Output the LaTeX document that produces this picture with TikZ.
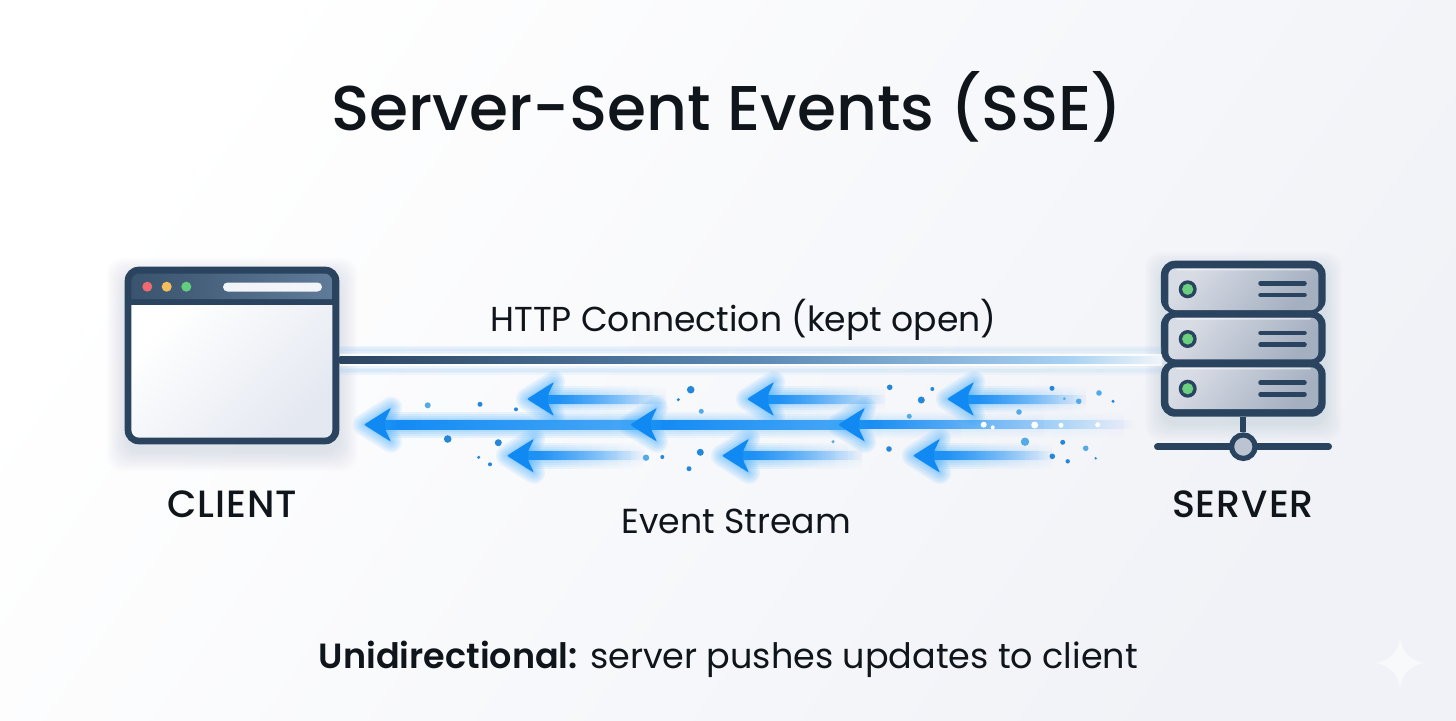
\documentclass[tikz,border=0pt]{standalone}
\usepackage{fontspec}
\setmainfont{Poppins}[UprightFont=* Medium,BoldFont=* SemiBold]
\newfontfamily\regfont{Poppins}
\usetikzlibrary{calc,fadings}
\definecolor{ink}{HTML}{10151C}
\definecolor{navy}{HTML}{2A4460}
\definecolor{barl}{HTML}{3A536E}
\definecolor{barr}{HTML}{5F7B99}
\definecolor{evblue}{HTML}{1089F3}
\definecolor{evglow}{HTML}{2CA4FF}
\definecolor{dotd}{HTML}{2487DC}
\definecolor{dotl}{HTML}{52ABE8}
\definecolor{bgend}{HTML}{F0F2F7}
\definecolor{lineglow}{HTML}{9CCDF5}
\definecolor{paneend}{HTML}{E4E8F1}
\definecolor{redlamp}{HTML}{EE6A6E}
\definecolor{amberlamp}{HTML}{F6BD5C}
\definecolor{greenlamp}{HTML}{62CF7C}
\definecolor{pill}{HTML}{F2F4F8}
\definecolor{hubfill}{HTML}{BCC4D1}
\definecolor{unitl}{HTML}{D8DCE5}
\definecolor{unitr}{HTML}{A4AFC0}
\definecolor{ledgreen}{HTML}{6AD07F}
\definecolor{linemid}{HTML}{5C8AB5}
\definecolor{lineend}{HTML}{A8D2F3}
\definecolor{linefree}{HTML}{F1F5FA}
\definecolor{midend}{HTML}{4BA8F6}
\tikzfading[name=tailfade,left color=transparent!0,middle color=transparent!15,right color=transparent!100]
\tikzfading[name=glowfade,left color=transparent!0,middle color=transparent!45,right color=transparent!100]
\tikzfading[name=midfade,left color=transparent!0,middle color=transparent!35,right color=transparent!100]
\tikzfading[name=linefade,left color=transparent!30,middle color=transparent!0,right color=transparent!60]
\tikzset{
  caption/.style={inner sep=0pt,anchor=base,text=ink},
  windowframe/.style={fill=navy,rounded corners=14pt,inner sep=0pt,minimum width=214.6pt,minimum height=177.6pt},
  unitframe/.style={fill=navy,rounded corners=14pt,inner sep=0pt,minimum width=164.7pt},
  slot/.style={draw=navy,line width=4.5pt,line cap=round},
  stream/.style={fill=evblue},
  softshadow/.style={fill=navy,opacity=.012},
}
\newcommand{\headshape}[2]{(#1,#2) -- (#1+27,#2-17) -- (#1+21,#2-4.5) -- (#1+21,#2+4.5) -- (#1+27,#2+17) -- cycle}
\newcommand{\evhead}[2]{%
  \foreach \w in {22,18,14,10,6,3}{\draw[evglow,opacity=.09,line width=\w pt,line join=round,fill=evglow,fill opacity=.09] \headshape{#1}{#2};}
  \fill[evblue,rounded corners=2pt] \headshape{#1}{#2};}
\newcommand{\evshaft}[4]{% name, tip x, y, tail x
  \coordinate (#1h) at (#2+18,#3);
  \coordinate (#1t) at (#4,#3);
  \foreach \w in {13,11,9,7,5.5}{\fill[evglow,opacity=.11,path fading=glowfade] ($(#1h)+(0,-\w)$) rectangle ($(#1t)+(0,\w)$);}
  \fill[stream,path fading=tailfade] ($(#1h)+(0,-4.5)$) rectangle ($(#1t)+(0,4.5)$);}
\newcommand{\evarrow}[4]{\evshaft{#1}{#2}{#3}{#4}\evhead{#2}{#3}}
\newcommand{\pdark}[3]{\fill[dotd] (#1,#2) circle[radius=#3];}
\newcommand{\plight}[3]{\fill[dotl] (#1,#2) circle[radius=#3];}
\newcommand{\pwhite}[3]{\fill[white] (#1,#2) circle[radius=#3];}
\begin{document}
\begin{tikzpicture}[x=1pt,y=-1pt]
\useasboundingbox (0,0) rectangle (1456,720);
\shade[left color=white,right color=bgend,shading angle=55] (0,0) rectangle (1456,720);

% sparkle
\fill[white,opacity=.55] (1400,639) .. controls (1403,653) and (1410,660) .. (1424,663) .. controls (1410,666) and (1403,673) .. (1400,687) .. controls (1397,673) and (1390,666) .. (1376,663) .. controls (1390,660) and (1397,653) .. (1400,639) -- cycle;

% texts
\node[caption,font=\fontsize{63.2}{70}\selectfont] (title) at (727,130) {Server-Sent Events (SSE)};
\node[caption,font=\regfont\fontsize{34.6}{40}\selectfont] (httplabel) at (743.5,331) {HTTP Connection (kept open)};
\node[caption,font=\fontsize{38}{40}\selectfont\addfontfeature{LetterSpace=2.5}] (clientlabel) at (232,517) {CLIENT};
\node[caption,font=\fontsize{38}{40}\selectfont\addfontfeature{LetterSpace=2.5}] (serverlabel) at (1243,517) {SERVER};
\node[caption,font=\regfont\fontsize{34.7}{40}\selectfont] (streamlabel) at (736,533) {Event Stream};
\node[caption,font=\fontsize{35}{40}\selectfont] (note) at (728.5,668) {\textbf{Unidirectional:} {\regfont server pushes updates to client}};

% shadows
\foreach \g in {18,16,14,12,10,8,6,4,2,0}{\fill[softshadow,rounded corners=16pt] (124.7-\g,276-\g) rectangle (339.3+\g,453+\g);}
\foreach \g in {16,14,12,10,8,6,4,2,0}{\fill[softshadow,rounded corners=16pt] (1161-\g,268-\g) rectangle (1325.7+\g,425+\g);}

% client window
\node[windowframe] (client) at (232,355.5) {};
\shade[left color=barl,right color=barr] (131.3,299) -- (131.3,281) [rounded corners=8pt] -- (131.3,273.5) -- (332.3,273.5) [sharp corners] -- (332.3,299) -- cycle;
\shade[left color=white,right color=paneend,shading angle=45] (131.3,305) -- (332.3,305) [rounded corners=8pt] -- (332.3,437.7) -- (131.3,437.7) [sharp corners] -- cycle;
\fill[redlamp] (147.3,286.7) circle[radius=5];
\fill[amberlamp] (166.7,286.7) circle[radius=5];
\fill[greenlamp] (186.3,286.7) circle[radius=5];
\fill[pill,rounded corners=4.5pt] (223,282.5) rectangle (322,291.5);

% server
\coordinate (hub) at (1243.3,446.7);
\draw[navy,line width=7pt,line cap=round] (1157.5,446.7) -- (1328.5,446.7);
\node[circle,fill=hubfill,draw=navy,line width=5.2pt,inner sep=0pt,minimum size=23.5pt] (hubnode) at (hub) {};
\node[unitframe,minimum height=53pt] (unit1) at (1243.3,287.2) {};
\node[unitframe,minimum height=54pt] (unit2) at (1243.3,338) {};
\node[unitframe,minimum height=56pt] (unit3) at (1243.3,388.7) {};
\draw[navy,line width=6pt] (unit3.south) -- (hubnode.north);
\foreach \t/\b in {268.3/310,317.7/359.3,367.3/409}{
  \shade[left color=unitl,right color=unitr,shading angle=50,rounded corners=7pt] (1168.3,\t) rectangle (1318.3,\b);
  \fill[white,opacity=.55,rounded corners=1pt] (1176,\t+.3) rectangle (1311,\t+2);
}
\foreach \y in {289.3,339,388.7}{
  \fill[navy] (1187.7,\y) circle[radius=9];
  \fill[ledgreen] (1187.7,\y) circle[radius=5.6];
  \draw[slot] (1260.5,\y-6) -- (1304.5,\y-6);
  \draw[slot] (1260.5,\y+5.7) -- (1304.5,\y+5.7);
}

% HTTP line
\coordinate (linestop) at (1162,360);
\coordinate (linea) at (760,360);
\coordinate (lineb) at (1070,360);
\foreach \w in {3,1.5,0}{\fill[lineglow,opacity=.2,path fading=linefade] (340,345.5+\w) rectangle (1162,354-\w);
  \fill[lineglow,opacity=.2,path fading=linefade] (340,366+\w) rectangle (1162,374.5-\w);}
\fill[white,opacity=.7] (340,354) rectangle (1162,356);
\fill[white,opacity=.7] (340,364) rectangle (1162,366);
\shade[left color=navy,right color=linemid] ($(client.east |- linestop)+(0,-3.6)$) rectangle ($(linea)+(0,3.6)$);
\shade[left color=linemid,right color=lineend] ($(linea)+(0,-3.6)$) rectangle ($(lineb)+(0,3.6)$);
\shade[left color=lineend,right color=linefree] ($(lineb)+(0,-3.6)$) rectangle ($(linestop)+(0,3.6)$);

% event stream: middle row
\coordinate (m1h) at (382,424.7); \coordinate (m1t) at (648,424.7);
\coordinate (m2h) at (648,424.7); \coordinate (m2t) at (856,424.7);
\foreach \w in {13,11,9,7,5.5}{\fill[evglow,opacity=.11,path fading=midfade] (382,424.7-\w) rectangle (1135,424.7+\w);}
\shade[left color=evblue,right color=midend] ($(m1h)+(0,-4.5)$) rectangle ($(m1t)+(0,4.5)$);
\shade[left color=evblue,right color=midend] ($(m2h)+(0,-4.5)$) rectangle ($(m2t)+(0,4.5)$);
\evhead{364}{424.7}\evhead{630}{424.7}
\coordinate (m3h) at (856,424.7); \coordinate (m3t) at (1135,424.7);
\fill[stream,path fading=midfade] ($(m3h)+(0,-4.5)$) rectangle ($(m3t)+(0,4.5)$);
\evhead{838}{424.7}

% rows
\evarrow{a}{527}{399}{667}
\evarrow{b}{747}{399}{886}
\evarrow{c}{947}{399}{1087}
\evarrow{d}{507}{455.7}{645}
\evarrow{e}{722}{455.7}{863}
\evarrow{f}{913}{455.7}{1053}

% particles
\pdark{690.7}{389.7}{3.8}\pdark{678.3}{399.7}{1.7}\plight{701.3}{411.3}{2.5}
\plight{427.7}{405.3}{3}\pdark{480}{404.3}{2.5}\pdark{516}{409.3}{2}
\pdark{447.7}{439}{3.8}\pdark{498.3}{442.7}{3.5}\pdark{478.7}{457.3}{1.7}\pdark{490}{464.3}{2}
\plight{646}{457.7}{3.2}\pdark{662.3}{457}{2}\pdark{700.3}{452.3}{3.5}\pdark{689}{468.7}{2.5}
\pdark{889.7}{387.3}{2.8}\pdark{932.3}{389}{2}\pdark{921.3}{400}{3.5}\plight{909.3}{416.3}{2.5}
\pdark{1052}{388.3}{2.5}\plight{1099}{393}{2.8}\pdark{1113}{401.3}{1.7}\plight{1078.7}{401.3}{2.8}\plight{1064.3}{398.7}{1.5}\plight{1019}{412}{2.8}
\pwhite{983.7}{424.7}{3}\pwhite{992.7}{427.3}{2}\pwhite{1034.7}{425}{3.5}\pwhite{1061}{425.3}{2.5}\pwhite{1097.7}{424.7}{2.5}
\plight{1025}{441.7}{4.2}\pdark{1062.7}{442.3}{2.5}\plight{1085.7}{448.3}{2.8}\pdark{1052.3}{456.3}{2.8}\pdark{1067.7}{461.3}{2.2}\pdark{1095.7}{458.3}{1.3}
\plight{833}{441.7}{1.7}\pdark{889}{449}{2.8}
\end{tikzpicture}
\end{document}
